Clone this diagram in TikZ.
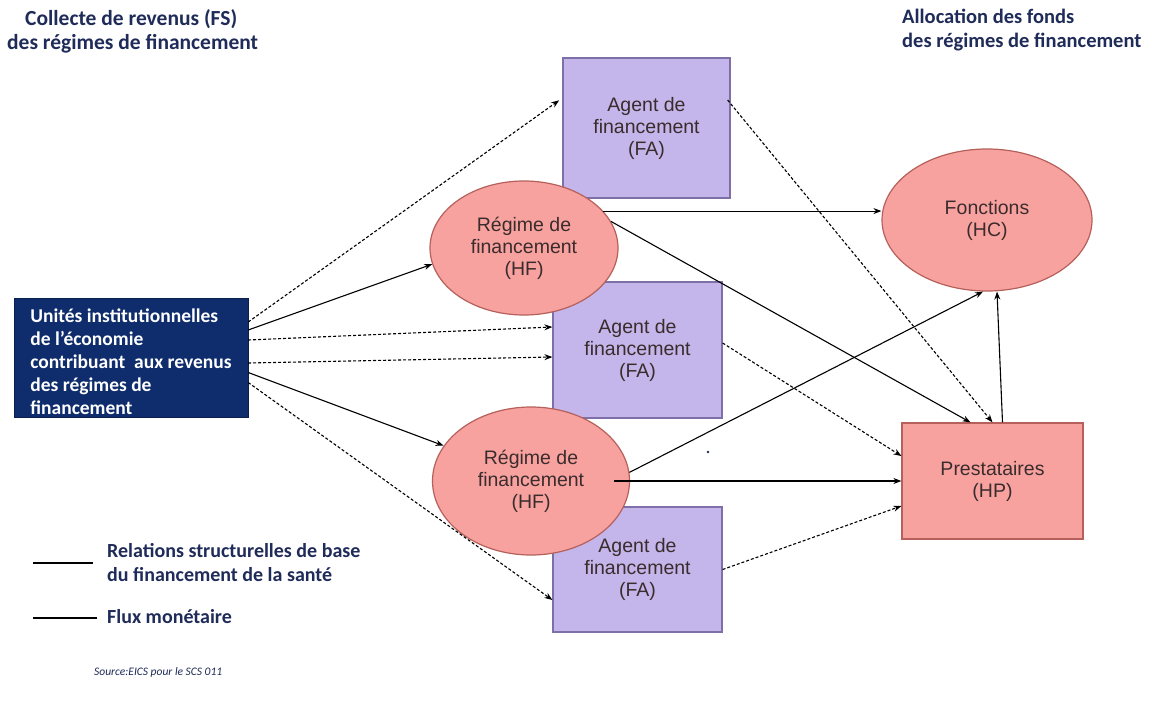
\documentclass[tikz,border=0pt]{standalone}
\usepackage{fontspec}
\setmainfont{Liberation Sans}
\newfontfamily\calfont{Carlito}
\usetikzlibrary{arrows.meta,shapes.geometric,calc}
\definecolor{navyfill}{HTML}{0F2C6C}
\definecolor{titlecol}{HTML}{1F2B58}
\definecolor{fafill}{HTML}{C4B6EA}
\definecolor{faborder}{HTML}{7E6FA8}
\definecolor{hffill}{HTML}{F8A2A0}
\definecolor{hfborder}{HTML}{B5605A}
\definecolor{nodetext}{HTML}{3A2C2C}
\tikzset{
  fabox/.style={draw=faborder, line width=1.2pt, fill=fafill, inner sep=0pt, align=center,
    font=\fontsize{19.5}{22}\selectfont, text=nodetext},
  hfell/.style={ellipse, draw=hfborder, line width=1.2pt, fill=hffill, inner sep=0pt, align=center,
    font=\fontsize{19.5}{22}\selectfont, text=nodetext},
  hpbox/.style={draw=hfborder, line width=1.2pt, fill=hffill, inner sep=0pt, align=center,
    font=\fontsize{19.5}{22}\selectfont, text=nodetext},
  navybox/.style={draw=navyfill!70!black, fill=navyfill, inner sep=0pt},
  navytext/.style={inner sep=0pt, align=left,
    font=\calfont\bfseries\fontsize{19.5}{23}\selectfont, text=white},
  titletext/.style={inner sep=0pt, align=left, font=\calfont\bfseries\fontsize{21.5}{24}\selectfont, text=titlecol},
  legtext/.style={inner sep=0pt, align=left, font=\calfont\bfseries\fontsize{20}{24}\selectfont, text=titlecol},
  flow/.style={line width=1.1pt, -{Stealth[length=8pt,width=6pt]}},
  dflow/.style={line width=1.1pt, dash pattern=on 3pt off 2pt, -{Stealth[length=8pt,width=6pt]}},
}
\begin{document}
\begin{tikzpicture}[x=1pt,y=-1pt]
\useasboundingbox[fill=white] (0,0) rectangle (1153,704);

% titles
\node[titletext, anchor=north west] (tl) at (7,9) {\hspace*{18pt}Collecte de revenus (FS)\\des régimes de financement};
\node[titletext, anchor=north west, font=\calfont\bfseries\fontsize{20.5}{24}\selectfont] (tr) at (902,9) {Allocation des fonds\\des régimes de financement};

% agents
\node[fabox, minimum width=167pt, minimum height=140pt] (fa1) at (646.5,128) {Agent de\\financement\\(FA)};
\node[fabox, minimum width=169pt, minimum height=136pt] (fa2) at (637.5,350) {Agent de\\financement\\(FA)};
\node[fabox, minimum width=169pt, minimum height=125pt] (fa3) at (637.5,569.5) {Agent de\\financement\\(FA)};

% schemes
\node[hfell, minimum width=188pt, minimum height=134pt] (hf1) at (524,248) {Régime de\\financement\\(HF)};
\node[hfell, minimum width=197pt, minimum height=148pt] (hf2) at (531,481) {Régime de\\financement\\(HF)};

% functions and providers
\node[hfell, minimum width=210pt, minimum height=142pt] (hc) at (987,220) {Fonctions\\(HC)};
\node[hpbox, minimum width=181pt, minimum height=116pt] (hp) at (992.5,481) {Prestataires\\(HP)};

% institutional units
\node[navybox, minimum width=234pt, minimum height=119pt] (iu) at (131,357.5) {};
\node[navytext] (iut) at (131,362)
  {Unités institutionnelles\\de l’économie\\contribuant\ \ aux revenus\\des régimes de\\financement};

% connectors from institutional units
\draw[dflow, shorten >=4pt] ([yshift=35.5pt]iu.east) -- ([yshift=30pt]fa1.west);
\draw[flow] ([yshift=27.5pt]iu.east) -- (hf1.190);
\draw[dflow] ([yshift=17.5pt]iu.east) -- ([yshift=23pt]fa2.west);
\draw[dflow] ([yshift=-5.5pt]iu.east) -- ([yshift=-7pt]fa2.west);
\draw[flow] ([yshift=-15pt]iu.east) -- (hf2.158);
\draw[dflow] ([yshift=-25pt]iu.east) -- ([yshift=-30.5pt]fa3.west);

% connectors to functions and providers
\draw[flow] (hf1.25) -- (hf1.25 -| hc.west);
\draw[flow] (hf1.17) -- ([xshift=-22pt]hp.north);
\draw[dflow] ([xshift=-3pt,yshift=28pt]fa1.east) -- (hp.north);
\draw[dflow] ([yshift=7pt]fa2.east) -- ([yshift=25pt]hp.west);
\draw[flow] ([xshift=-16pt]hf2.east) -- (hp.west);
\draw[flow] (hf2.5) -- ([xshift=-4pt]hc.south);
\draw[dflow] (fa3.east) -- ([yshift=-25pt]hp.west);
\draw[flow] ([xshift=10pt]hp.north) -- ([xshift=10pt]hc.south);

% small dot
\fill[titlecol] (708,452) circle (1.3);

% legend
\coordinate (l1a) at (33,563);
\coordinate (l1b) at (93,563);
\coordinate (l2a) at (33,618);
\coordinate (l2b) at (97,618);
\draw[line width=1.2pt] (l1a) -- (l1b);
\draw[line width=1.2pt] (l2a) -- (l2b);
\node[legtext, anchor=west] (lg1) at (107,563) {Relations structurelles de base\\du financement de la santé};
\node[legtext, anchor=west] (lg2) at (107,617) {Flux monétaire};

% source
\node[inner sep=0pt, anchor=west, font=\calfont\itshape\fontsize{11.5}{13}\selectfont, text=titlecol] (src) at (94,672) {Source:EICS pour le SCS 011};
\end{tikzpicture}
\end{document}
